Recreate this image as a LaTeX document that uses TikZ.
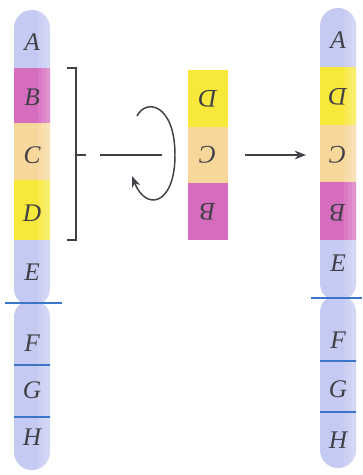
\documentclass[tikz,border=0pt]{standalone}
\usepackage{fontspec}
\setmainfont{Liberation Serif}
\usepackage{tikz}
\usetikzlibrary{arrows.meta,positioning}

\definecolor{chromblue}{RGB}{196,202,242}
\definecolor{bandpink}{RGB}{214,108,190}
\definecolor{bandyellow}{RGB}{248,232,58}
\definecolor{bandtan}{RGB}{248,215,154}
\definecolor{bandline}{RGB}{58,118,202}
\definecolor{inkgray}{RGB}{64,64,70}

% arm outlines: #1 left edge x, #2 upper end y, #3 lower end y
\newcommand{\upperarm}[3]{(#1,#2+18) -- (#1,#3-15) .. controls (#1,#3-5) and (#1+6,#3-1) .. (#1+8,#3) -- (#1+28,#3) .. controls (#1+30,#3-1) and (#1+36,#3-5) .. (#1+36,#3-15) -- (#1+36,#2+18) .. controls (#1+36,#2+8) and (#1+28,#2) .. (#1+18,#2) .. controls (#1+8,#2) and (#1,#2+8) .. (#1,#2+18) -- cycle}
\newcommand{\lowerarm}[3]{(#1+8,#2) -- (#1+28,#2) .. controls (#1+30,#2+1) and (#1+36,#2+5) .. (#1+36,#2+15) -- (#1+36,#3-18) .. controls (#1+36,#3-8) and (#1+28,#3) .. (#1+18,#3) .. controls (#1+8,#3) and (#1,#3-8) .. (#1,#3-18) -- (#1,#2+15) .. controls (#1,#2+5) and (#1+6,#2+1) .. (#1+8,#2) -- cycle}

\begin{document}
\begin{tikzpicture}[x=0.75pt, y=-0.75pt,
    lbl/.style={font=\fontsize{19}{22}\selectfont\itshape, text=inkgray, inner sep=0pt},
    band/.style={rectangle, inner sep=0pt, minimum width=30pt, minimum height=42.5pt, font=\fontsize{19}{22}\selectfont\itshape, text=inkgray},
    ink/.style={draw=inkgray, line width=1.1pt},
    arrow/.style={ink, -{Stealth[length=8.5pt,width=6.5pt]}},
    cut/.style={draw=bandline, line width=1.1pt},
    shine/.style={white, opacity=0.1},
]

\useasboundingbox (0,0) rectangle (362,475);

% Left chromosome
\begin{scope}
  \clip \upperarm{14}{10}{303};
  \fill[chromblue] (10,0) rectangle (54,68);
  \fill[bandpink] (10,68) rectangle (54,123);
  \fill[bandtan] (10,123) rectangle (54,180);
  \fill[bandyellow] (10,180) rectangle (54,240);
  \fill[chromblue] (10,240) rectangle (54,310);
  \foreach \s in {38,42,46} \fill[shine] (\s,0) rectangle (54,310);
\end{scope}
\begin{scope}
  \clip \lowerarm{14}{303}{470};
  \fill[chromblue] (10,300) rectangle (54,475);
  \foreach \s in {38,42,46} \fill[shine] (\s,300) rectangle (54,475);
  \draw[cut, line width=0.9pt] (10,365) -- (54,365);
  \draw[cut, line width=0.9pt] (10,417) -- (54,417);
\end{scope}
\draw[cut] (5,303) -- (62,303);

\node[lbl] (lA) at (32,42) {A};
\node[lbl] (lB) at (32,97) {B};
\node[lbl] (lC) at (32,155) {C};
\node[lbl] (lD) at (32,213) {D};
\node[lbl] (lE) at (32,272) {E};
\node[lbl] (lF) at (32,343) {F};
\node[lbl] (lG) at (32,390) {G};
\node[lbl] (lH) at (32,437) {H};

% Bracket and rotation axis
\coordinate (brTop) at (67,68);
\coordinate (brBot) at (67,240);
\coordinate (brMid) at (76,155);
\draw[ink] (brTop) -| (brMid) |- (brBot);
\draw[ink] (brMid) -- ++(10,0);
\coordinate (axL) at (100,155);
\coordinate (axR) at (162,155);
\draw[ink] (axL) -- (axR);

% Turn arrow
\draw[arrow] (137,116) .. controls (146,98) and (175,104) .. (175,155) .. controls (175,205) and (146,212) .. (132,176);

% Inverted segment
\node[band, fill=bandyellow, rotate=180] (mD) at (208,98.3) {D};
\node[band, fill=bandtan, rotate=180] (mC) at (208,155) {C};
\node[band, fill=bandpink, rotate=180] (mB) at (208,211.7) {B};

\coordinate (rIn) at (306,155);
\draw[arrow, shorten <=12.75pt] (mC) -- (rIn);

% Right chromosome
\begin{scope}
  \clip \upperarm{320}{8}{298};
  \fill[chromblue] (316,0) rectangle (360,67);
  \fill[bandyellow] (316,67) rectangle (360,125);
  \fill[bandtan] (316,125) rectangle (360,182);
  \fill[bandpink] (316,182) rectangle (360,240);
  \fill[chromblue] (316,240) rectangle (360,305);
  \foreach \s in {344,348,352} \fill[shine] (\s,0) rectangle (360,305);
\end{scope}
\begin{scope}
  \clip \lowerarm{320}{298}{468};
  \fill[chromblue] (316,295) rectangle (360,475);
  \foreach \s in {344,348,352} \fill[shine] (\s,295) rectangle (360,475);
  \draw[cut, line width=0.9pt] (316,361) -- (360,361);
  \draw[cut, line width=0.9pt] (316,412) -- (360,412);
\end{scope}
\draw[cut] (311,298) -- (362,298);

\node[lbl] (rA) at (338,40) {A};
\node[lbl, rotate=180] (rD) at (338,97) {D};
\node[lbl, rotate=180] (rC) at (338,155) {C};
\node[lbl, rotate=180] (rB) at (338,213) {B};
\node[lbl] (rE) at (338,263) {E};
\node[lbl] (rF) at (338,340) {F};
\node[lbl] (rG) at (338,389) {G};
\node[lbl] (rH) at (338,440) {H};

\end{tikzpicture}
\end{document}
